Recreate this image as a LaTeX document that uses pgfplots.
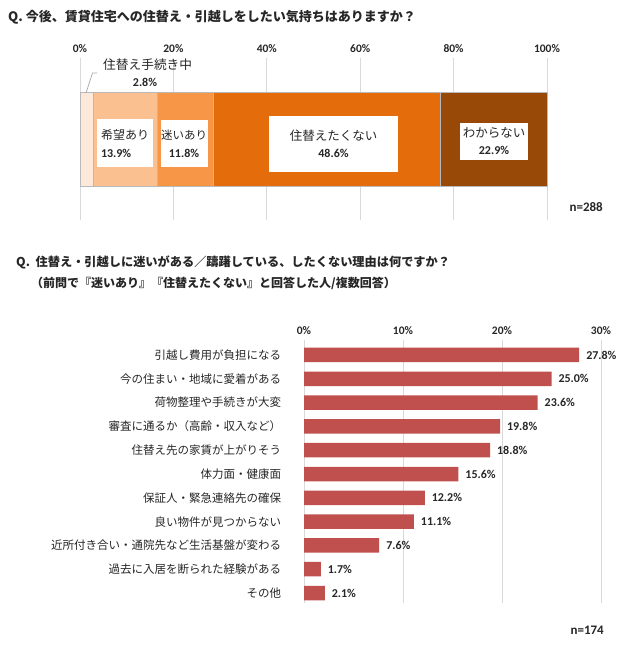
\documentclass[border=0pt]{standalone}
\usepackage{pgfplots}
\pgfplotsset{compat=1.18}
\usepackage{fontspec}
\setmainfont{Noto Sans CJK JP}
\newfontfamily\numfont{Carlito}
\definecolor{c1}{HTML}{FDE9D9}
\definecolor{c2}{HTML}{FAC090}
\definecolor{c3}{HTML}{F79646}
\definecolor{c4}{HTML}{E46C0A}
\definecolor{c5}{HTML}{984807}
\definecolor{barred}{HTML}{C0504D}
\definecolor{gridc}{HTML}{D9D9D9}
\definecolor{txt}{HTML}{262626}
\begin{document}
\begin{tikzpicture}
\path[use as bounding box] (0pt,0pt) rectangle (640pt,-652pt);
% ---------- titles ----------
\node[anchor=west, inner sep=0, text=txt, font=\bfseries\fontsize{13}{15}\selectfont] at (8pt,-17pt) {Q. 今後、賃貸住宅への住替え・引越しをしたい気持ちはありますか？};
\node[anchor=west, inner sep=0, text=txt, font=\bfseries\fontsize{12.2}{15}\selectfont] at (16pt,-262pt) {Q.\ \ 住替え・引越しに迷いがある／躊躇している、したくない理由は何ですか？};
\node[anchor=west, inner sep=0, text=txt, font=\bfseries\fontsize{12}{15}\selectfont] at (31pt,-283pt) {（前問で『迷いあり』『住替えたくない』と回答した人/複数回答）};
% ---------- top chart ----------
\begin{axis}[
  at={(80pt,-220pt)}, anchor=south west,
  scale only axis, width=467pt, height=162pt,
  xbar stacked, bar width=94pt,
  xmin=0, xmax=100, ymin=0, ymax=1,
  xtick={0,20,40,60,80,100},
  xticklabels={0\%,20\%,40\%,60\%,80\%,100\%},
  xticklabel pos=upper,
  ytick=\empty,
  axis line style={draw=none},
  major tick style={draw=none},
  xmajorgrids, grid style={color=gridc, line width=0.9pt},
  xticklabel style={font=\numfont\bfseries\fontsize{11.5}{13}\selectfont, text=txt, yshift=2pt},
  clip=false,
]
\addplot[fill=c1, draw=gray!55, line width=1pt] coordinates {(2.8,0.494)};
\addplot[fill=c2, draw=gray!55, line width=1pt] coordinates {(13.9,0.494)};
\addplot[fill=c3, draw=gray!55, line width=1pt] coordinates {(11.8,0.494)};
\addplot[fill=c4, draw=gray!55, line width=1pt] coordinates {(48.6,0.494)};
\addplot[fill=c5, draw=gray!55, line width=1pt] coordinates {(22.9,0.494)};
\end{axis}
% labels of the top bar
\draw[gray!70, line width=0.7pt] (86pt,-93pt) -- (92.5pt,-73pt) -- (97pt,-73pt);
\node[anchor=west, inner sep=0, text=txt, font=\fontsize{12.7}{14}\selectfont] at (103pt,-65pt) {住替え手続き中};
\node[inner sep=0, text=txt, font=\numfont\bfseries\fontsize{12}{13}\selectfont] at (145pt,-82pt) {2.8\%};
\node[fill=white, inner sep=0, minimum width=56pt, minimum height=48pt, align=left, text=txt, font=\fontsize{12}{18}\selectfont] at (125pt,-143pt) {希望あり\\{\numfont\bfseries\fontsize{12}{18}\selectfont 13.9\%}};
\node[fill=white, inner sep=0, minimum width=47pt, minimum height=47pt, align=center, text=txt, font=\fontsize{11.5}{18}\selectfont] at (184pt,-143.5pt) {迷いあり\\{\numfont\bfseries\fontsize{12}{18}\selectfont 11.8\%}};
\node[fill=white, inner sep=0, minimum width=129pt, minimum height=56pt, align=center, text=txt, font=\fontsize{12.5}{17}\selectfont] at (333.5pt,-144pt) {住替えたくない\\{\numfont\bfseries\fontsize{12}{17}\selectfont 48.6\%}};
\node[fill=white, inner sep=0, minimum width=68pt, minimum height=37pt, align=center, text=txt, font=\fontsize{12.5}{17}\selectfont] at (494pt,-141.5pt) {わからない\\{\numfont\bfseries\fontsize{12}{17}\selectfont 22.9\%}};
\node[anchor=east, inner sep=0, text=txt, font=\numfont\bfseries\fontsize{13}{14}\selectfont] at (603pt,-207pt) {n=288};
% ---------- bottom chart ----------
\begin{axis}[
  at={(304pt,-603pt)}, anchor=south west,
  scale only axis, width=297pt, height=263pt,
  xbar, bar width=14.5pt,
  xmin=0, xmax=30, ymin=-0.42, ymax=10.63,
  xtick={0,10,20,30},
  xticklabels={0\%,10\%,20\%,30\%},
  xticklabel pos=upper,
  xticklabel style={font=\numfont\bfseries\fontsize{11.5}{13}\selectfont, text=txt, yshift=2pt},
  ytick={0,1,2,3,4,5,6,7,8,9,10},
  yticklabels={その他,過去に入居を断られた経験がある,近所付き合い・通院先など生活基盤が変わる,良い物件が見つからない,保証人・緊急連絡先の確保,体力面・健康面,住替え先の家賃が上がりそう,審査に通るか（高齢・収入など）,荷物整理や手続きが大変,今の住まい・地域に愛着がある,引越し費用が負担になる},
  yticklabel style={font=\fontsize{11.5}{13}\selectfont, text=txt, xshift=-15pt},
  axis line style={draw=none},
  major tick style={draw=none},
  xmajorgrids, grid style={color=gridc, line width=0.9pt},
  /pgf/number format/assume math mode=true,
  nodes near coords={\pgfmathprintnumber[fixed,fixed zerofill,precision=1]{\pgfplotspointmeta}\%},
  point meta=x,
  every node near coord/.append style={font=\numfont\bfseries\fontsize{12}{13}\selectfont, text=txt, xshift=3.5pt},
  clip=false,
]
\addplot[fill=barred, draw=none] coordinates {
(2.1,0) (1.7,1) (7.6,2) (11.1,3) (12.2,4) (15.6,5) (18.8,6) (19.8,7) (23.6,8) (25.0,9) (27.8,10)};
\end{axis}
\node[anchor=east, inner sep=0, text=txt, font=\numfont\bfseries\fontsize{13}{14}\selectfont] at (604pt,-630pt) {n=174};
\end{tikzpicture}
\end{document}
